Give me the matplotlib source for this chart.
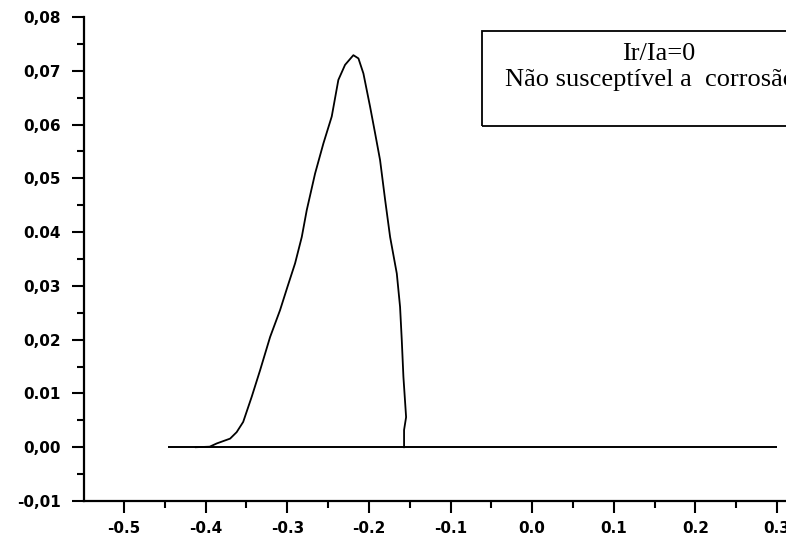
import matplotlib
matplotlib.use("Agg")
import matplotlib.pyplot as plt
from matplotlib.patches import Rectangle
from matplotlib.ticker import MultipleLocator

# Data (potential vs current density)
curve_x = [-0.412, -0.395, -0.3864, -0.370, -0.362, -0.354, -0.3435, -0.3333, -0.321,
           -0.3088, -0.2998, -0.2904, -0.2822, -0.2761, -0.2659, -0.2557, -0.2455,
           -0.2374, -0.2292, -0.2190, -0.2128, -0.2067, -0.1985, -0.1924, -0.1863,
           -0.1801, -0.1740, -0.1658, -0.1618, -0.1597, -0.1577, -0.1544, -0.1569,
           -0.1569]
curve_y = [0.0000, 0.0001, 0.0007, 0.0016, 0.0028, 0.0047, 0.0094, 0.0143, 0.0205,
           0.0255, 0.0298, 0.0342, 0.0391, 0.0441, 0.0509, 0.0565, 0.0615,
           0.0683, 0.0711, 0.0729, 0.0723, 0.0695, 0.0633, 0.0584, 0.0534,
           0.0460, 0.0391, 0.0323, 0.0261, 0.0199, 0.0131, 0.0056, 0.0032,
           0.0000]
baseline_x = [-0.446, 0.300]
baseline_y = [0.0, 0.0]

x_ticks = [-0.5, -0.4, -0.3, -0.2, -0.1, 0.0, 0.1, 0.2, 0.3]
x_labels = ["-0.5", "-0.4", "-0.3", "-0.2", "-0.1", "0.0", "0.1", "0.2", "0.3"]
y_ticks = [0.08, 0.07, 0.06, 0.05, 0.04, 0.03, 0.02, 0.01, 0.00, -0.01]
y_labels = ["0,08", "0,07", "0,06", "0,05", "0.04", "0,03", "0,02", "0.01", "0,00", "-0,01"]

box_line1 = "Ir/Ia=0"
box_line2 = "Não susceptível a  corrosão"

W, H = 786, 539
fig = plt.figure(figsize=(W / 100, H / 100), dpi=100)
ax = fig.add_axes([84 / W, 1 - 501 / H, 1 - 84 / W, (501 - 17) / H])

ax.plot(baseline_x, baseline_y, color="black", lw=1.4, solid_capstyle="butt")
ax.plot(curve_x, curve_y, color="black", lw=1.3)

ax.set_xlim(-0.549, 0.311)
ax.set_ylim(-0.01, 0.08)

ax.set_xticks(x_ticks)
ax.set_xticklabels(x_labels)
ax.set_yticks(y_ticks)
ax.set_yticklabels(y_labels)
ax.xaxis.set_minor_locator(MultipleLocator(0.05))
ax.yaxis.set_minor_locator(MultipleLocator(0.005))

for s in ["top", "right"]:
    ax.spines[s].set_visible(False)
for s in ["left", "bottom"]:
    ax.spines[s].set_linewidth(1.6)

ax.tick_params(axis="both", which="major", length=8.5, width=1.5, direction="out",
               labelsize=11)
ax.tick_params(axis="both", which="minor", length=5, width=1.5, direction="out")
ax.tick_params(axis="y", which="major", pad=8)
ax.tick_params(axis="x", which="major", pad=6)
for lab in ax.get_xticklabels() + ax.get_yticklabels():
    lab.set_fontweight("bold")
    lab.set_family("DejaVu Sans")

# Annotation box (extends past the right edge, as in the scan)
rect = Rectangle((482 / W, 1 - 126 / H), 0.5, 95 / H, transform=fig.transFigure,
                 fill=False, edgecolor="black", lw=1.3, clip_on=False)
fig.patches.append(rect)
fig.text(659 / W, 1 - 54 / H, box_line1, ha="center", va="center",
         family="Liberation Serif", fontsize=19)
fig.text(505 / W, 1 - 80 / H, box_line2, ha="left", va="center",
         family="Liberation Serif", fontsize=19)

fig.savefig("out.png", dpi=100)
